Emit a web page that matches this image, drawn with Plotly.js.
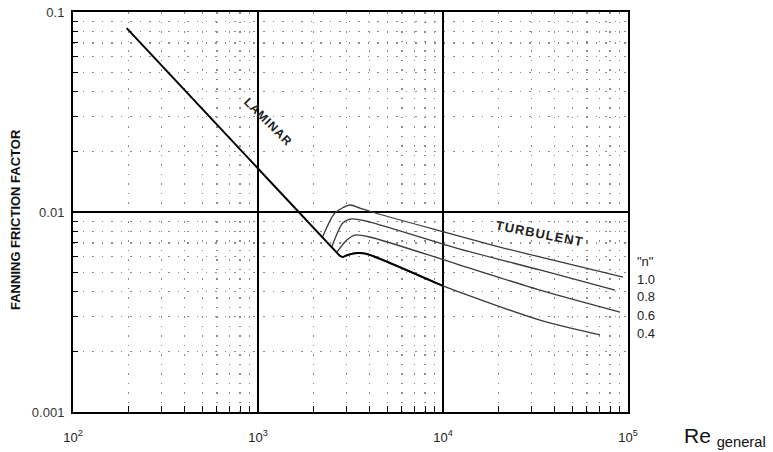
<!DOCTYPE html>
<html>
<head>
<meta charset="utf-8">
<script src="https://cdn.plot.ly/plotly-3.0.1.min.js"></script>
<style>html,body{margin:0;padding:0;background:#fff;}#chart{width:773px;height:452px;}</style>
</head>
<body>
<div id="chart"></div>
<script>
// ---- data ----
var laminarRe = [195, 2770];
var laminarF  = [0.083, 0.00603];

var n10Re = [2241, 2603, 3138, 3553, 4125, 9620, 20310, 93960];
var n10F  = [0.00755, 0.00989, 0.01084, 0.01047, 0.0100, 0.00805, 0.00668, 0.00473];

var n08Re = [2506, 2874, 3217, 4024, 12342, 33420, 85050];
var n08F  = [0.0067, 0.00881, 0.00923, 0.00891, 0.00653, 0.00513, 0.00407];

var n06Re = [2669, 3022, 3339, 4024, 12342, 33420, 90500];
var n06F  = [0.0063, 0.00724, 0.00767, 0.00750, 0.00543, 0.00407, 0.00316];

var n04Re = [2770, 2874, 3059, 3466, 3877, 9986, 33420, 70570];
var n04F  = [0.00603, 0.00596, 0.00610, 0.00624, 0.00617, 0.00427, 0.00288, 0.00243];

var nLabels = ['1.0', '0.8', '0.6', '0.4'];
var xTickVals = [100, 1000, 10000, 100000];
var xTickText = ['10<sup>2</sup>', '10<sup>3</sup>', '10<sup>4</sup>', '10<sup>5</sup>'];
var yTickVals = [0.001, 0.01, 0.1];
var yTickText = ['0.001', '0.01', '0.1'];

// ---- build ----
function minorVals(lo, hi) {
  var out = [];
  for (var d = lo; d < hi; d++) {
    for (var k = 2; k <= 9; k++) out.push(k * Math.pow(10, d));
  }
  return out;
}
var minorX = minorVals(2, 5);
var minorY = minorVals(-3, -1);

var thin = {color: '#3a3a3a', width: 1.3, shape: 'spline', smoothing: 0.7};
var boldN04Re = [], boldN04F = [];
for (var i = 0; i < n04Re.length; i++) {
  if (n04Re[i] <= 10000) { boldN04Re.push(n04Re[i]); boldN04F.push(n04F[i]); }
}

var traces = [
  {x: n10Re, y: n10F, mode: 'lines', line: thin, name: nLabels[0]},
  {x: n08Re, y: n08F, mode: 'lines', line: thin, name: nLabels[1]},
  {x: n06Re, y: n06F, mode: 'lines', line: thin, name: nLabels[2]},
  {x: n04Re, y: n04F, mode: 'lines', line: thin, name: nLabels[3]},
  {x: boldN04Re, y: boldN04F, mode: 'lines', line: {color: '#000', width: 2, shape: 'spline', smoothing: 0.7}, name: 'n04b'},
  {x: laminarRe, y: laminarF, mode: 'lines', line: {color: '#000', width: 2}, name: 'laminar'}
];

var font = 'Liberation Sans, Arial, Helvetica, sans-serif';
var hs = '&#8202;';
function spaced(s) { return s.split('').join(hs); }
var labelY0 = 0.3325, labelStep = 0.045;
var annotations = [
  {xref: 'paper', yref: 'paper', x: 1, y: labelY0 + labelStep, xshift: 7, xanchor: 'left', yanchor: 'middle',
   text: '"n"', showarrow: false, font: {family: font, size: 13, color: '#222'}},
  {xref: 'paper', yref: 'paper', x: 0, y: 0.5, xshift: -58, yshift: -8, xanchor: 'center', yanchor: 'middle',
   text: '<b>FANNING FRICTION FACTOR</b>', textangle: -90, showarrow: false, font: {family: font, size: 13, color: '#111'}},
  {xref: 'paper', yref: 'paper', x: 1, y: 0, xshift: 54, yshift: -25, xanchor: 'left', yanchor: 'middle',
   text: 'Re <sub>general</sub>', showarrow: false, font: {family: font, size: 21, color: '#111'}},
  {xref: 'paper', yref: 'paper', x: 0.352, y: 0.725, xanchor: 'center', yanchor: 'middle',
   text: '<b>' + spaced('LAMINAR') + '</b>', textangle: 45, showarrow: false,
   font: {family: font, size: 12, color: '#222'}},
  {xref: 'paper', yref: 'paper', x: 0.84, y: 0.445, xanchor: 'center', yanchor: 'middle',
   text: '<b>' + spaced('TURBULENT') + '</b>', textangle: 11, showarrow: false,
   font: {family: font, size: 13, color: '#222'}}
];
for (var j = 0; j < nLabels.length; j++) {
  annotations.push({xref: 'paper', yref: 'paper', x: 1, y: labelY0 - j * labelStep, xshift: 7,
    xanchor: 'left', yanchor: 'middle', text: nLabels[j], showarrow: false,
    font: {family: font, size: 13, color: '#222'}});
}

var layout = {
  width: 773, height: 452,
  margin: {l: 73, r: 145, t: 12, b: 40, pad: 0},
  paper_bgcolor: '#fff', plot_bgcolor: '#fff',
  showlegend: false,
  font: {family: font, color: '#222'},
  xaxis: {
    type: 'log', range: [2, 5], tickmode: 'array', tickvals: xTickVals, ticktext: xTickText,
    showgrid: true, gridcolor: '#000', gridwidth: 1.5,
    showline: true, linecolor: '#000', linewidth: 2, mirror: true,
    ticks: '', ticklabelstandoff: 12, tickfont: {family: font, size: 13, color: '#222'},
    minor: {tickmode: 'array', tickvals: minorX, showgrid: true, gridcolor: '#8a8a8a', gridwidth: 1.3,
            griddash: '1.5px,8px', ticks: 'inside', ticklen: 6, tickwidth: 1, tickcolor: '#000'},
    zeroline: false
  },
  yaxis: {
    type: 'log', range: [-3, -1], tickmode: 'array', tickvals: yTickVals, ticktext: yTickText,
    showgrid: true, gridcolor: '#000', gridwidth: 1.5,
    showline: true, linecolor: '#000', linewidth: 2, mirror: true,
    ticks: '', ticklabelstandoff: 4, tickfont: {family: font, size: 13, color: '#333'},
    minor: {tickmode: 'array', tickvals: minorY, showgrid: true, gridcolor: '#8a8a8a', gridwidth: 1.3,
            griddash: '1.5px,8px', ticks: 'inside', ticklen: 5, tickwidth: 1, tickcolor: '#000'},
    zeroline: false
  },
  annotations: annotations
};

Plotly.newPlot('chart', traces, layout, {displayModeBar: false, staticPlot: true});
</script>
</body>
</html>
